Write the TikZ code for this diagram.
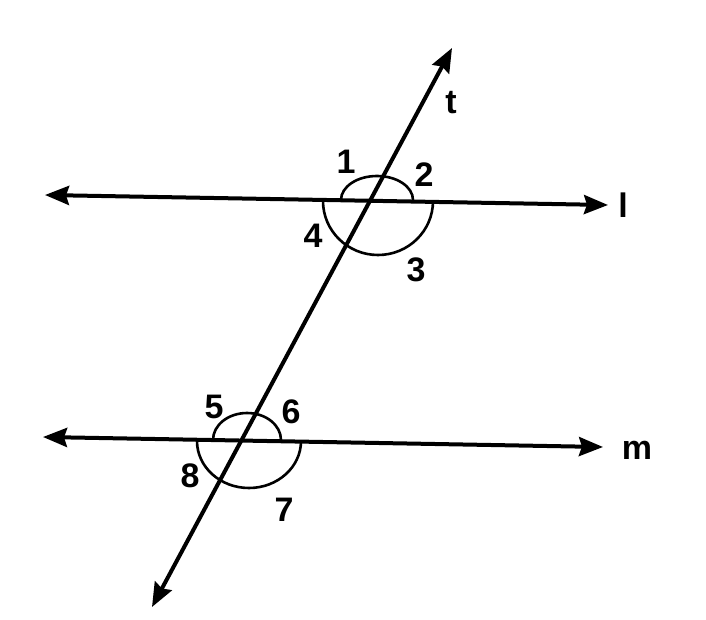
\documentclass[tikz,border=0pt]{standalone}
\usepackage{fontspec}
\setmainfont{Liberation Sans}
\usetikzlibrary{arrows.meta}
\begin{document}
\begin{tikzpicture}[x=1pt,y=1pt,
  lineA/.style={line width=4pt,{Stealth[length=24pt,width=19pt,inset=3pt]}-{Stealth[length=24pt,width=19pt,inset=3pt]}},
  anglearc/.style={line width=2.6pt},
  lbl/.style={font=\fontsize{34}{40}\selectfont\bfseries,inner sep=0pt}]
\useasboundingbox (0,0) rectangle (706,-620);
% end points
\coordinate (lA) at (45,-195);
\coordinate (lB) at (608,-205);
\coordinate (mA) at (43,-437);
\coordinate (mB) at (603,-447);
\coordinate (tA) at (152,-607);
\coordinate (tB) at (452,-48);
% lines
\draw[lineA] (lA) -- (lB);
\draw[lineA] (mA) -- (mB);
\draw[lineA] (tA) -- (tB);
% angle arcs at l
\draw[anglearc] (341,-200) arc[start angle=180,end angle=0,x radius=36,y radius=24];
\draw[anglearc] (323,-201) arc[start angle=180,end angle=360,x radius=55,y radius=54];
% angle arcs at m
\draw[anglearc] (213,-440) arc[start angle=180,end angle=0,x radius=34,y radius=27];
\draw[anglearc] (197,-441) arc[start angle=180,end angle=360,x radius=52,y radius=47];
% labels
\node[lbl] (n1) at (346,-162) {1};
\node[lbl] (n2) at (424,-175) {2};
\node[lbl] (n3) at (416,-270) {3};
\node[lbl] (n4) at (313,-236) {4};
\node[lbl] (n5) at (214,-407) {5};
\node[lbl] (n6) at (291,-412) {6};
\node[lbl] (n7) at (284,-510) {7};
\node[lbl] (n8) at (190,-476) {8};
\node[lbl] (nt) at (451,-103) {t};
\node[lbl] (nl) at (623,-205) {l};
\node[lbl] (nm) at (637,-450) {m};
\end{tikzpicture}
\end{document}
